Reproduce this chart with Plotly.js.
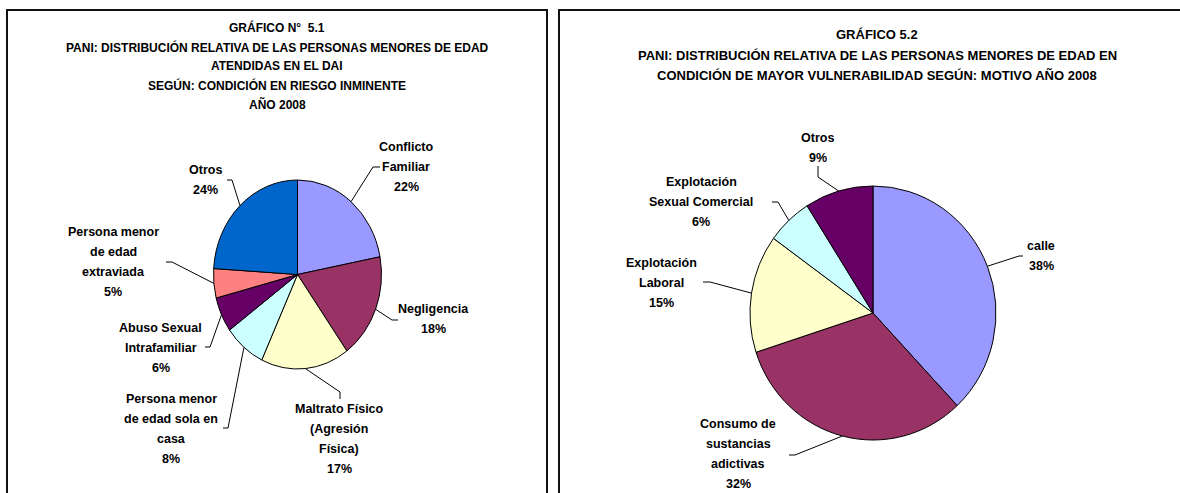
<!DOCTYPE html>
<html>
<head>
<meta charset="utf-8">
<script src="https://cdn.plot.ly/plotly-3.0.1.min.js"></script>
<style>
    html, body { margin: 0; padding: 0; background: #fff; }
    #chart { width: 1180px; height: 493px; }
    .pielayer path { vector-effect: non-scaling-stroke; }
</style>
</head>
<body>
<div id="chart"></div>
<script>
const W = 1180, H = 493;

// Gráfico 5.1 - condición en riesgo inminente
const title1 = ["GRÁFICO N°\u00a0 5.1", "PANI: DISTRIBUCIÓN RELATIVA DE LAS PERSONAS MENORES DE EDAD", "ATENDIDAS EN EL DAI", "SEGÚN: CONDICIÓN EN RIESGO INMINENTE", "AÑO 2008"];
const labels1 = ["Conflicto Familiar", "Negligencia", "Maltrato Físico (Agresión Física)", "Persona menor de edad sola en casa", "Abuso Sexual Intrafamiliar", "Persona menor de edad extraviada", "Otros"];
const lines1 = [["Conflicto", "Familiar"], ["Negligencia"], ["Maltrato Físico", "(Agresión", "Física)"], ["Persona menor", "de edad sola en", "casa"], ["Abuso Sexual", "Intrafamiliar"], ["Persona menor", "de edad", "extraviada"], ["Otros"]];
const values1 = [22, 18, 17, 8, 6, 5, 24];
const colors1 = ["#9999FF", "#993366", "#FFFFCC", "#CCFFFF", "#660066", "#FF8080", "#0066CC"];

// Gráfico 5.2 - motivo
const title2 = ["GRÁFICO 5.2", "PANI: DISTRIBUCIÓN RELATIVA DE LAS PERSONAS MENORES DE EDAD EN", "CONDICIÓN DE MAYOR VULNERABILIDAD SEGÚN: MOTIVO AÑO 2008"];
const labels2 = ["calle", "Consumo de sustancias adictivas", "Explotación Laboral", "Explotación Sexual Comercial", "Otros"];
const lines2 = [["calle"], ["Consumo de", "sustancias", "adictivas"], ["Explotación", "Laboral"], ["Explotación", "Sexual Comercial"], ["Otros"]];
const values2 = [38, 32, 15, 6, 9];
const colors2 = ["#9999FF", "#993366", "#FFFFCC", "#CCFFFF", "#660066"];

// layout in pixels: pie ellipse, title block, label blocks and leader elbows
const panels = [
    { box: [7, 10, 547, 520], cx: 297.5, cy: 274.5, rx: 84, ry: 94.5, tx: 277, ty: 28, tstep: 19, tsize: 12,
      title: title1, labels: labels1, lines: lines1, values: values1, colors: colors1,
      pos: [
          { x: 406, y: 147, knee: [373, 167], end: [380, 167] },
          { x: 434, y: 309, knee: [392, 320], end: [398, 320] },
          { x: 339, y: 409, knee: [340, 392], end: [340, 399] },
          { x: 171, y: 399, knee: [228, 428], end: [223, 428] },
          { x: 161, y: 328, knee: [210, 347], end: [205, 347] },
          { x: 113, y: 232, knee: [172, 262], end: [166, 262] },
          { x: 205, y: 170, knee: [232, 180], end: [227, 180] }
      ] },
    { box: [559, 10, 1200, 520], cx: 873, cy: 313, rx: 123, ry: 127, tx: 877, ty: 35, tstep: 20.5, tsize: 13,
      title: title2, labels: labels2, lines: lines2, values: values2, colors: colors2,
      pos: [
          { x: 1041, y: 246, knee: [1019, 256], end: [1023, 256] },
          { x: 738, y: 424, knee: [795, 455], end: [789, 455] },
          { x: 661, y: 263, knee: [710, 282], end: [703, 282] },
          { x: 701, y: 182, knee: [778, 202], end: [772, 202] },
          { x: 818, y: 138, knee: [818, 177], end: [818, 166] }
      ] }
];

const px = x => x / W, py = y => 1 - y / H;
const font = { family: "Liberation Sans, Arial, sans-serif", color: "#000", weight: "bold" };
const traces = [], annotations = [], shapes = [];

panels.forEach(p => {
    traces.push({
        type: "pie", labels: p.labels, values: p.values, sort: false,
        direction: "clockwise", rotation: 0, textinfo: "none", hoverinfo: "skip",
        marker: { colors: p.colors, line: { color: "#000", width: 1 } },
        domain: { x: [px(p.cx - p.rx), px(p.cx + p.rx)], y: [py(p.cy + p.rx), py(p.cy - p.rx)] }
    });
    shapes.push({ type: "rect", xref: "paper", yref: "paper", x0: px(p.box[0]), x1: px(p.box[2]),
        y0: py(p.box[3]), y1: py(p.box[1]), line: { color: "#111", width: 2 } });
    p.title.forEach((t, i) => annotations.push({
        xref: "paper", yref: "paper", x: px(p.tx), y: py(p.ty + i * p.tstep), text: t,
        showarrow: false, xanchor: "center", yanchor: "middle", font: { ...font, size: p.tsize }
    }));

    const total = p.values.reduce((a, b) => a + b, 0);
    let cum = 0;
    p.values.forEach((v, i) => {
        const a = 2 * Math.PI * (cum + v / 2) / total;
        cum += v;
        const ex = p.cx + p.rx * Math.sin(a), ey = p.cy - p.ry * Math.cos(a);
        const L = p.pos[i];
        shapes.push({ type: "path", xref: "paper", yref: "paper", line: { color: "#000", width: 1 },
            path: `M${px(ex)},${py(ey)} L${px(L.knee[0])},${py(L.knee[1])} L${px(L.end[0])},${py(L.end[1])}` });
        const txt = p.lines[i].concat([Math.round(v / total * 100) + "%"]);
        txt.forEach((t, j) => annotations.push({
            xref: "paper", yref: "paper", x: px(L.x), y: py(L.y + j * 20), text: t,
            showarrow: false, xanchor: "center", yanchor: "middle", font: { ...font, size: 12.5 }
        }));
    });
});

const layout = {
    width: W, height: H, margin: { l: 0, r: 0, t: 0, b: 0 },
    paper_bgcolor: "#fff", showlegend: false,
    annotations, shapes
};

const el = document.getElementById("chart");
Plotly.newPlot(el, traces, layout, { staticPlot: true, displayModeBar: false }).then(() => {
    // Excel drew these pies slightly taller than wide
    document.querySelectorAll(".pielayer .trace").forEach((g, i) => {
        const p = panels[i];
        g.setAttribute("transform", `translate(0 ${p.cy}) scale(1 ${p.ry / p.rx}) translate(0 ${-p.cy})`);
    });
});
</script>
</body>
</html>
